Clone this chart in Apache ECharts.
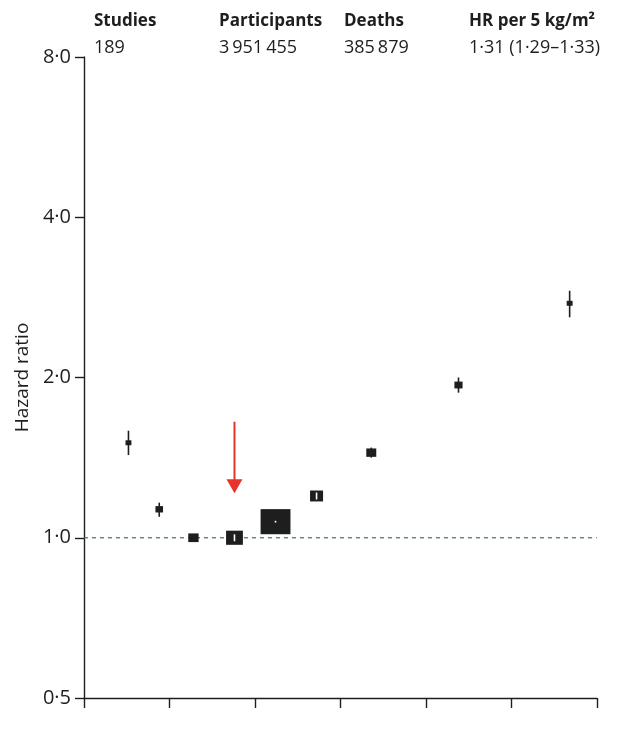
<!DOCTYPE html>
<html>
<head>
<meta charset="utf-8">
<script src="https://cdn.jsdelivr.net/npm/echarts@6/dist/echarts.min.js"></script>
<style>
  html, body { margin: 0; padding: 0; background: #fff; }
  #chart { width: 620px; height: 730px; }
</style>
</head>
<body>
<div id="chart"></div>
<script>
var bmi = [17.6, 19.4, 21.4, 23.8, 26.2, 28.6, 31.8, 36.9, 43.4];
var hr = [1.508, 1.131, 1.0, 1.0, 1.072, 1.198, 1.445, 1.936, 2.757];
var ciLow = [1.430, 1.095, 0.99, 0.985, 1.068, 1.180, 1.414, 1.873, 2.595];
var ciHigh = [1.589, 1.164, 1.01, 1.015, 1.076, 1.216, 1.477, 2.000, 2.911];
var weight = [2.0, 3.3, 6.1, 16.2, 51.0, 9.7, 5.7, 3.8, 2.0];
var yTicks = [0.5, 1, 2, 4, 8];
var refLine = [[15, 1], [45, 1]];
var arrow = [23.8, 1.652, 1.212]; // x, start, tip

var headers = ['Studies', 'Participants', 'Deaths', 'HR per 5 kg/m\u00b2'];
var headerValues = ['189', '3\u2009951\u2009455', '385\u2009879', '1\u00b731 (1\u00b729\u20131\u00b733)'];

var dark = '#1e1e1e';
var font = 'Open Sans';

var dom = document.getElementById('chart');
var myChart = echarts.init(dom, null, { renderer: 'canvas' });

var points = bmi.map(function (x, i) {
    return [x, hr[i], ciLow[i], ciHigh[i], weight[i]];
});

var headerGraphics = [];
var colX = [94, 219, 344, 469];
headers.forEach(function (h, i) {
    headerGraphics.push({
        type: 'text', left: colX[i], top: 13,
        style: { text: h, fontFamily: font, fontWeight: 'bold', fontSize: 17, fill: dark }
    });
    headerGraphics.push({
        type: 'text', left: colX[i], top: 39,
        style: { text: headerValues[i], fontFamily: font, fontSize: 18, fill: dark }
    });
});

var option = {
    backgroundColor: '#fff',
    animation: false,
    grid: { left: 84, right: 23, top: 57, bottom: 32 },
    graphic: headerGraphics,
    xAxis: {
        type: 'value',
        min: 15, max: 45, interval: 5,
        axisLine: { show: true, lineStyle: { color: dark, width: 1.4 } },
        axisTick: { show: true, length: 10, lineStyle: { color: dark, width: 1.4 } },
        axisLabel: { show: false },
        splitLine: { show: false }
    },
    yAxis: {
        type: 'log',
        logBase: 2,
        min: 0.5, max: 8,
        name: 'Hazard ratio',
        nameLocation: 'middle',
        nameGap: 52,
        nameTextStyle: { fontFamily: font, fontSize: 19, color: dark },
        axisLine: { show: true, lineStyle: { color: dark, width: 1.4 } },
        axisTick: { show: true, length: 9, lineStyle: { color: dark, width: 1.4 } },
        axisLabel: {
            margin: 13,
            fontFamily: font, fontSize: 20, color: dark,
            formatter: function (v) {
                var nearest = yTicks.reduce(function (a, b) {
                    return Math.abs(b - v) < Math.abs(a - v) ? b : a;
                });
                return nearest.toFixed(1).replace('.', '\u00b7');
            }
        },
        splitLine: { show: false }
    },
    series: [{
        type: 'line',
        data: refLine,
        symbol: 'none',
        silent: true,
        lineStyle: { color: '#3f6b80', width: 1.2, type: [4, 4] },
        z: 1
    }, {
        type: 'custom',
        data: points,
        z: 3,
        renderItem: function (params, api) {
            var p = api.coord([api.value(0), api.value(1)]);
            var lo = api.coord([api.value(0), api.value(2)]);
            var hi = api.coord([api.value(0), api.value(3)]);
            var w = Math.sqrt(api.value(4) * 17.5);
            var h = w * 0.84;
            var children = [{
                type: 'line',
                shape: { x1: p[0], y1: hi[1], x2: p[0], y2: lo[1] },
                style: { stroke: dark, lineWidth: 1.6 }
            }, {
                type: 'rect',
                shape: { x: p[0] - w / 2, y: p[1] - h / 2, width: w, height: h },
                style: { fill: dark }
            }];
            if (w >= 12) {
                var top = Math.max(hi[1], p[1] - h / 2 + 1.5);
                var bot = Math.min(lo[1], p[1] + h / 2 - 1.5);
                if (bot - top < 1.5) { top = p[1] - 0.8; bot = p[1] + 0.8; }
                children.push({
                    type: 'line',
                    shape: { x1: p[0], y1: top, x2: p[0], y2: bot },
                    style: { stroke: '#fff', lineWidth: 1.6 }
                });
            }
            return { type: 'group', children: children };
        }
    }, {
        type: 'custom',
        data: [arrow],
        z: 4,
        renderItem: function (params, api) {
            var s = api.coord([api.value(0), api.value(1)]);
            var t = api.coord([api.value(0), api.value(2)]);
            var hw = 8, hh = 14;
            return {
                type: 'group',
                children: [{
                    type: 'line',
                    shape: { x1: s[0], y1: s[1], x2: t[0], y2: t[1] - hh + 1 },
                    style: { stroke: '#e8332a', lineWidth: 2 }
                }, {
                    type: 'polygon',
                    shape: { points: [[t[0] - hw, t[1] - hh], [t[0] + hw, t[1] - hh], [t[0], t[1]]] },
                    style: { fill: '#e8332a' }
                }]
            };
        }
    }]
};

myChart.setOption(option);
window.addEventListener('resize', myChart.resize);
</script>
</body>
</html>
